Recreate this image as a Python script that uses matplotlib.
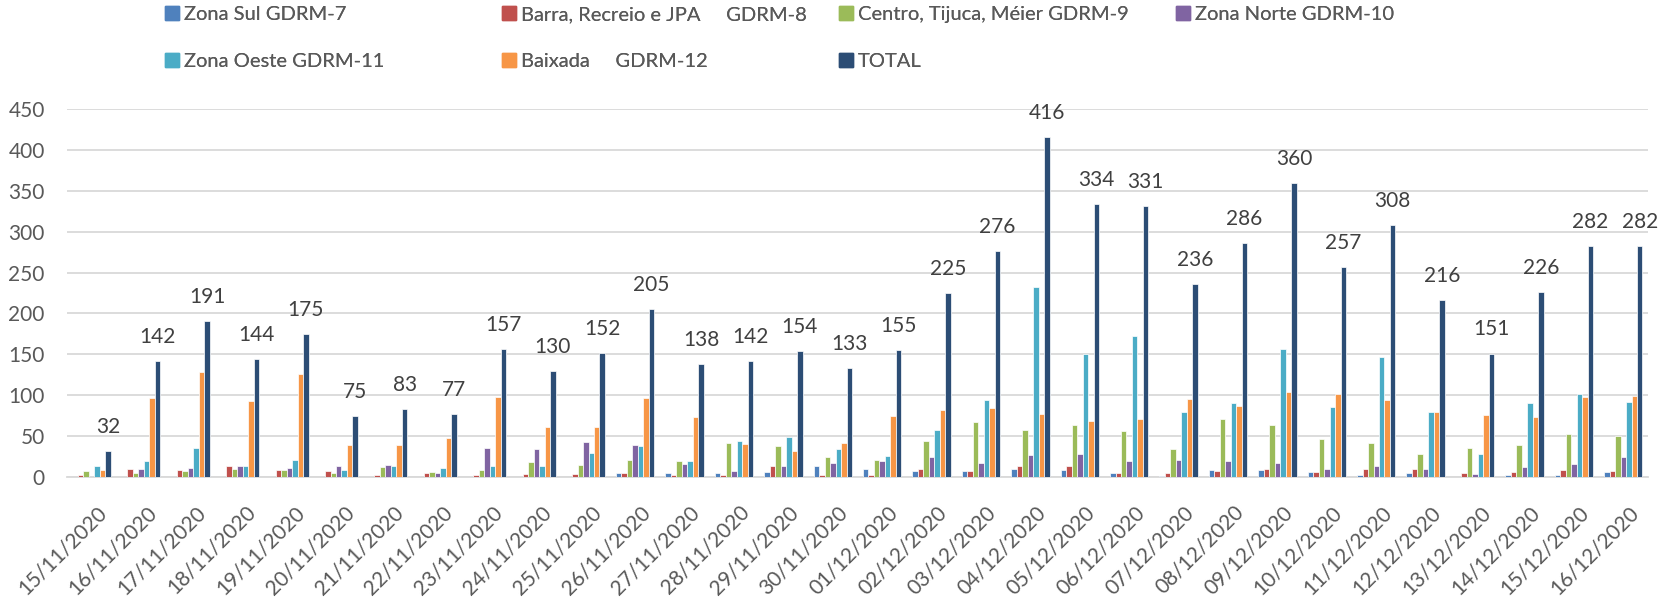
import numpy as np
import matplotlib.pyplot as plt
import matplotlib.patches as mpatches
import matplotlib.transforms as transforms

plt.rcParams['font.family'] = ['Lato', 'DejaVu Sans']

dates = ['15/11/2020', '16/11/2020', '17/11/2020', '18/11/2020', '19/11/2020', '20/11/2020',
         '21/11/2020', '22/11/2020', '23/11/2020', '24/11/2020', '25/11/2020', '26/11/2020',
         '27/11/2020', '28/11/2020', '29/11/2020', '30/11/2020', '01/12/2020', '02/12/2020',
         '03/12/2020', '04/12/2020', '05/12/2020', '06/12/2020', '07/12/2020', '08/12/2020',
         '09/12/2020', '10/12/2020', '11/12/2020', '12/12/2020', '13/12/2020', '14/12/2020',
         '15/12/2020', '16/12/2020']

zona_sul = [0, 0, 0, 0, 0, 0, 0, 0, 0, 0, 0, 5, 5, 5, 6, 13,
            10, 7, 7, 10, 9, 5, 1, 8, 8, 6, 3, 5, 0, 3, 2, 6]
barra = [2, 10, 9, 13, 9, 7, 3, 5, 2, 4, 4, 5, 3, 2, 13, 3,
         3, 10, 7, 13, 13, 5, 5, 7, 10, 6, 10, 10, 5, 6, 9, 7]
centro = [7, 5, 7, 10, 8, 5, 12, 6, 8, 18, 15, 21, 20, 41, 38, 24,
          21, 44, 67, 57, 63, 56, 34, 71, 63, 47, 41, 28, 36, 39, 53, 50]
zona_norte = [0, 10, 11, 14, 11, 13, 15, 5, 36, 34, 43, 39, 16, 7, 14, 17,
              19, 24, 17, 27, 28, 19, 21, 20, 17, 10, 13, 10, 4, 12, 16, 25]
zona_oeste = [13, 20, 36, 13, 21, 9, 14, 11, 13, 13, 29, 38, 19, 44, 49, 34,
              26, 57, 94, 232, 150, 172, 79, 91, 157, 85, 147, 79, 28, 90, 101, 92]
baixada = [9, 96, 128, 93, 126, 39, 39, 48, 98, 61, 61, 96, 73, 40, 32, 41,
           74, 82, 84, 77, 69, 71, 95, 87, 104, 101, 94, 80, 76, 73, 98, 99]
total = [32, 142, 191, 144, 175, 75, 83, 77, 157, 130, 152, 205, 138, 142, 154, 133,
         155, 225, 276, 416, 334, 331, 236, 286, 360, 257, 308, 216, 151, 226, 282, 282]

labels = ['Zona Sul GDRM-7', 'Barra, Recreio e JPA     GDRM-8', 'Centro, Tijuca, Méier GDRM-9',
          'Zona Norte GDRM-10', 'Zona Oeste GDRM-11', 'Baixada     GDRM-12', 'TOTAL']
colors = ['#4F81BD', '#C0504D', '#9BBB59', '#8064A2', '#4BACC6', '#F79646', '#2C4D75']
series = [zona_sul, barra, centro, zona_norte, zona_oeste, baixada, total]

fig = plt.figure(figsize=(16.59, 5.99), dpi=100)
ax = fig.add_axes([67/1659, 1-477/599, (1648-67)/1659, (477-109)/599])

x = np.arange(len(dates))
w = 0.111
handles = []
for i, (vals, c) in enumerate(zip(series, colors)):
    bars = ax.bar(x + (i-3)*w, vals, w, color=c, edgecolor='white', linewidth=0.5, zorder=3)
    handles.append(mpatches.Patch(color=c))

# data labels on TOTAL
for xi, v in zip(x, total):
    ax.annotate(str(v), (xi + 3*w, v), xytext=(0, 13), textcoords='offset points',
                ha='center', va='baseline', fontsize=15, color='#404040')

ax.set_xlim(-0.5, len(dates)-0.5)
ax.set_ylim(0, 450)
ax.set_yticks(np.arange(0, 451, 50))
ax.yaxis.grid(True, color='#D9D9D9', linewidth=1.3, zorder=0)
ax.set_axisbelow(True)
for s in ['left', 'right', 'top']:
    ax.spines[s].set_visible(False)
ax.spines['bottom'].set_color('#D9D9D9')
ax.spines['bottom'].set_linewidth(1.3)
ax.tick_params(axis='y', length=0, pad=16, labelsize=15, labelcolor='#595959')
ax.tick_params(axis='x', length=0, pad=18, labelsize=15, labelcolor='#595959')
ax.set_xticks(x)
ax.set_xticklabels(dates, rotation=45, ha='right', rotation_mode='anchor')
offset = transforms.ScaledTranslation(5/100, 0, fig.dpi_scale_trans)
for lab in ax.get_xticklabels():
    lab.set_transform(lab.get_transform() + offset)

# legend: four columns, evenly spaced like the original
cols = [[0, 4], [1, 5], [2, 6], [3]]
xs = [165, 502, 839, 1176]
for col, xp in zip(cols, xs):
    leg = fig.legend([handles[k] for k in col], [labels[k] for k in col],
                     loc='upper left', bbox_to_anchor=(xp/1659, 1 - 6/599),
                     frameon=False, fontsize=14.5, labelcolor='#595959',
                     handlelength=0.68, handleheight=0.68, handletextpad=0.25,
                     labelspacing=1.48, borderpad=0, borderaxespad=0)
    fig.add_artist(leg)

fig.savefig('out.png', dpi=100)
